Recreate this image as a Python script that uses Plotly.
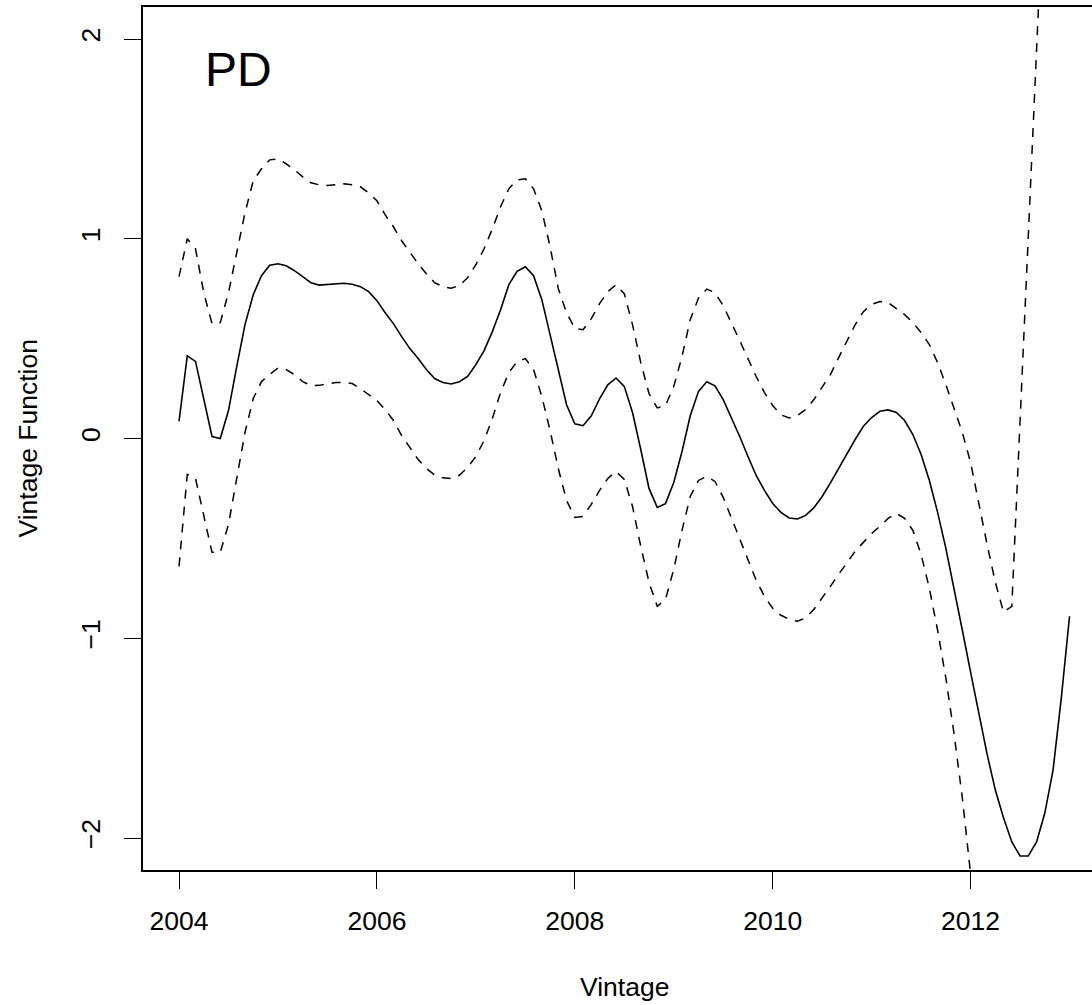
import plotly.graph_objects as go

# Monthly vintages, Jan 2004 .. Jan 2013
months = list(range(109))
vintage = [2004 + m / 12 for m in months]

# Estimated vintage function
fit = [
    0.086, 0.414, 0.386, 0.20, 0.01, 0.00, 0.14, 0.36, 0.57, 0.72, 0.815, 0.867,
    0.875, 0.865, 0.84, 0.81, 0.78, 0.768, 0.77, 0.775, 0.777, 0.772, 0.76, 0.735,
    0.69, 0.63, 0.575, 0.51, 0.45, 0.40, 0.345, 0.30, 0.28, 0.273, 0.284, 0.311,
    0.37, 0.44, 0.535, 0.645, 0.77, 0.837, 0.86, 0.815, 0.695, 0.52, 0.34, 0.169,
    0.074, 0.064, 0.114, 0.198, 0.269, 0.303, 0.261, 0.13, -0.055, -0.25, -0.345, -0.326,
    -0.22, -0.065, 0.114, 0.236, 0.284, 0.264, 0.195, 0.105, 0.01, -0.09, -0.185, -0.26,
    -0.325, -0.37, -0.398, -0.403, -0.385, -0.346, -0.29, -0.222, -0.15, -0.075, -0.005, 0.061,
    0.105, 0.136, 0.143, 0.13, 0.09, 0.02, -0.08, -0.21, -0.37, -0.55, -0.75, -0.96,
    -1.17, -1.38, -1.58, -1.76, -1.90, -2.02, -2.09, -2.09, -2.02, -1.875, -1.66, -1.30,
    -0.89,
]

# Upper confidence band
upper = [
    0.81, 1.00, 0.95, 0.73, 0.575, 0.58, 0.73, 0.93, 1.13, 1.29, 1.35, 1.395,
    1.40, 1.375, 1.345, 1.31, 1.28, 1.27, 1.267, 1.27, 1.275, 1.27, 1.26, 1.23,
    1.19, 1.12, 1.06, 0.99, 0.93, 0.875, 0.825, 0.78, 0.76, 0.752, 0.765, 0.805,
    0.87, 0.95, 1.05, 1.16, 1.25, 1.295, 1.30, 1.25, 1.14, 0.96, 0.75, 0.63,
    0.55, 0.545, 0.60, 0.675, 0.735, 0.77, 0.725, 0.57, 0.38, 0.225, 0.153, 0.165,
    0.26, 0.41, 0.595, 0.703, 0.748, 0.73, 0.665, 0.58, 0.49, 0.40, 0.31, 0.23,
    0.165, 0.118, 0.103, 0.115, 0.145, 0.195, 0.26, 0.32, 0.405, 0.49, 0.57, 0.635,
    0.672, 0.686, 0.68, 0.65, 0.62, 0.58, 0.53, 0.47, 0.38, 0.27, 0.15, 0.03,
    -0.12, -0.33, -0.53, -0.72, -0.87, -0.84, 0.10, 1.04, 1.97, 2.9, 3.8, 4.7,
    5.6,
]

# Lower confidence band
lower = [
    -0.64, -0.18, -0.20, -0.39, -0.57, -0.57, -0.43, -0.20, 0.03, 0.20, 0.285, 0.32,
    0.353, 0.345, 0.32, 0.285, 0.265, 0.266, 0.272, 0.28, 0.281, 0.275, 0.25, 0.22,
    0.19, 0.145, 0.09, 0.015, -0.047, -0.105, -0.15, -0.183, -0.197, -0.20, -0.184, -0.145,
    -0.09, -0.01, 0.10, 0.23, 0.33, 0.385, 0.40, 0.345, 0.21, 0.04, -0.15, -0.31,
    -0.395, -0.39, -0.33, -0.26, -0.20, -0.165, -0.205, -0.34, -0.54, -0.72, -0.84, -0.805,
    -0.655, -0.46, -0.29, -0.21, -0.19, -0.215, -0.295, -0.40, -0.50, -0.615, -0.71, -0.79,
    -0.85, -0.885, -0.905, -0.915, -0.898, -0.855, -0.80, -0.74, -0.68, -0.625, -0.565, -0.52,
    -0.475, -0.44, -0.40, -0.375, -0.40, -0.46, -0.58, -0.75, -0.96, -1.20, -1.48, -1.80,
    -2.2, -2.6, -3.0, -3.4, -3.7, -3.9, -4.3, -5.2, -6.0, -6.9, -7.6, -8.3,
    -8.8,
]

x_ticks = [2004, 2006, 2008, 2010, 2012]
y_ticks = [-2, -1, 0, 1, 2]

FONT = "Liberation Sans, Arial, Helvetica, sans-serif"
INK = "black"

fig = go.Figure()
fig.add_trace(go.Scatter(x=vintage, y=upper, mode="lines",
                         line=dict(color=INK, width=1.5, dash="9px,8px")))
fig.add_trace(go.Scatter(x=vintage, y=lower, mode="lines",
                         line=dict(color=INK, width=1.5, dash="9px,8px")))
fig.add_trace(go.Scatter(x=vintage, y=fit, mode="lines",
                         line=dict(color=INK, width=1.6)))

fig.update_layout(
    width=1092, height=1005,
    margin=dict(l=143, r=0, t=7, b=135, pad=0),
    paper_bgcolor="white", plot_bgcolor="white",
    showlegend=False,
    font=dict(family=FONT, size=26.5, color=INK),
)

fig.update_xaxes(
    range=[2003.636, 2013.227],
    tickvals=x_ticks, ticktext=[str(v) for v in x_ticks],
    ticks="outside", ticklen=17, tickwidth=1.3, tickcolor=INK,
    showline=True, linewidth=2, linecolor=INK, mirror=True,
    showgrid=False, zeroline=False,
    ticklabelstandoff=9,
    tickfont=dict(family=FONT, size=26.5, color=INK),
)
fig.update_yaxes(
    range=[-2.1602, 2.1602],
    tickvals=y_ticks, ticktext=["\u22122", "\u22121", "0", "1", "2"],
    tickangle=-90,
    ticks="outside", ticklen=17, tickwidth=1.3, tickcolor=INK,
    showline=True, linewidth=2, linecolor=INK, mirror=False,
    showgrid=False, zeroline=False,
    ticklabelstandoff=13,
    tickfont=dict(family=FONT, size=26.5, color=INK),
)

fig.add_annotation(text="Vintage", xref="paper", yref="paper",
                   x=(624 - 143) / 949, y=-(987 - 870) / 863,
                   xanchor="center", yanchor="middle", showarrow=False,
                   font=dict(family=FONT, size=26.5, color=INK))
fig.add_annotation(text="Vintage Function", xref="paper", yref="paper",
                   x=-(143 - 27) / 949, y=0.5, textangle=-90,
                   xanchor="center", yanchor="middle", showarrow=False,
                   font=dict(family=FONT, size=26.5, color=INK))
fig.add_annotation(text="PD", xref="x", yref="y",
                   x=2004.245, y=1.849,
                   xanchor="left", yanchor="middle", showarrow=False,
                   font=dict(family=FONT, size=48, color=INK))

fig.write_html("out.html")
